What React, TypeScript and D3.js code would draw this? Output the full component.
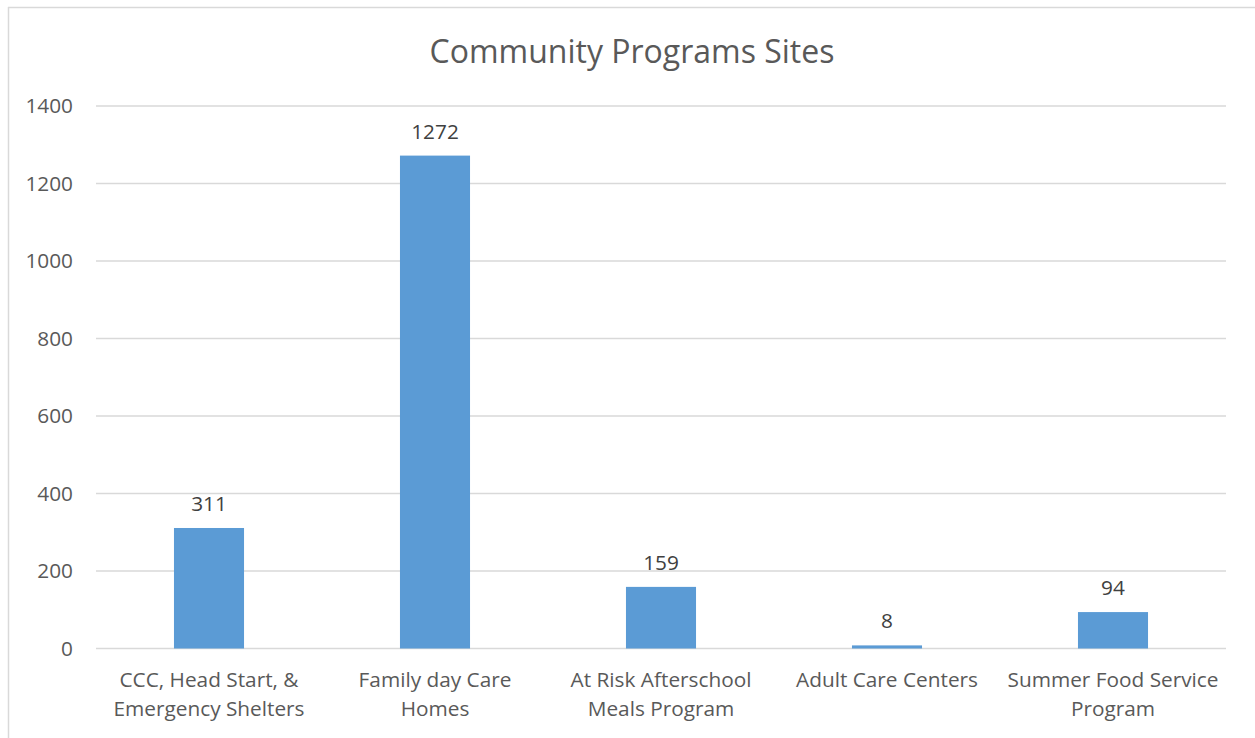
import React from "react";
import * as d3 from "d3";

const categories: string[][] = [
  ["CCC, Head Start, &", "Emergency Shelters"],
  ["Family day Care", "Homes"],
  ["At Risk Afterschool", "Meals Program"],
  ["Adult Care Centers"],
  ["Summer Food Service", "Program"],
];
const values: number[] = [311, 1272, 159, 8, 94];
const yTicks: number[] = [0, 200, 400, 600, 800, 1000, 1200, 1400];
const title = "Community Programs Sites";

const W = 1255;
const H = 738;
const FONT = "'Open Sans', sans-serif";
const FS = 20.8;

export default function App() {
  const keys = categories.map((c) => c.join(" "));
  const x = d3.scaleBand<string>().domain(keys).range([96, 1226]).paddingInner(0.69).paddingOuter(0.345);
  const y = d3.scaleLinear().domain([0, 1400]).range([648.5, 106]);

  return (
    <svg width={W} height={H} style={{ position: "absolute", left: 0, top: 0, background: "#fff" }}>
      <line x1={8} x2={W} y1={7.5} y2={7.5} stroke="#D9D9D9" strokeWidth={1.5} />
      <line x1={8.5} x2={8.5} y1={7} y2={H} stroke="#D9D9D9" strokeWidth={1.5} />
      <text x={632} y={63} textAnchor="middle" fontFamily={FONT} fontSize={32} fill="#595959">
        {title}
      </text>
      {yTicks.map((t) => (
        <g key={t}>
          <line x1={96} x2={1226} y1={y(t)} y2={y(t)} stroke="#D9D9D9" strokeWidth={1.5} />
          <text x={73} y={y(t) + 7} textAnchor="end" fontFamily={FONT} fontSize={FS} fill="#595959">
            {t}
          </text>
        </g>
      ))}
      {values.map((v, i) => {
        const bx = x(keys[i])!;
        const bw = x.bandwidth();
        return (
          <g key={i}>
            <rect x={bx} y={y(v)} width={bw} height={y(0) - y(v)} fill="#5B9BD5" />
            <text x={bx + bw / 2} y={y(v) - 17} textAnchor="middle" fontFamily={FONT} fontSize={FS} fill="#404040">
              {v}
            </text>
            {categories[i].map((line, j) => (
              <text key={j} x={bx + bw / 2} y={687 + j * 29} textAnchor="middle" fontFamily={FONT} fontSize={FS} fill="#595959">
                {line}
              </text>
            ))}
          </g>
        );
      })}
    </svg>
  );
}
